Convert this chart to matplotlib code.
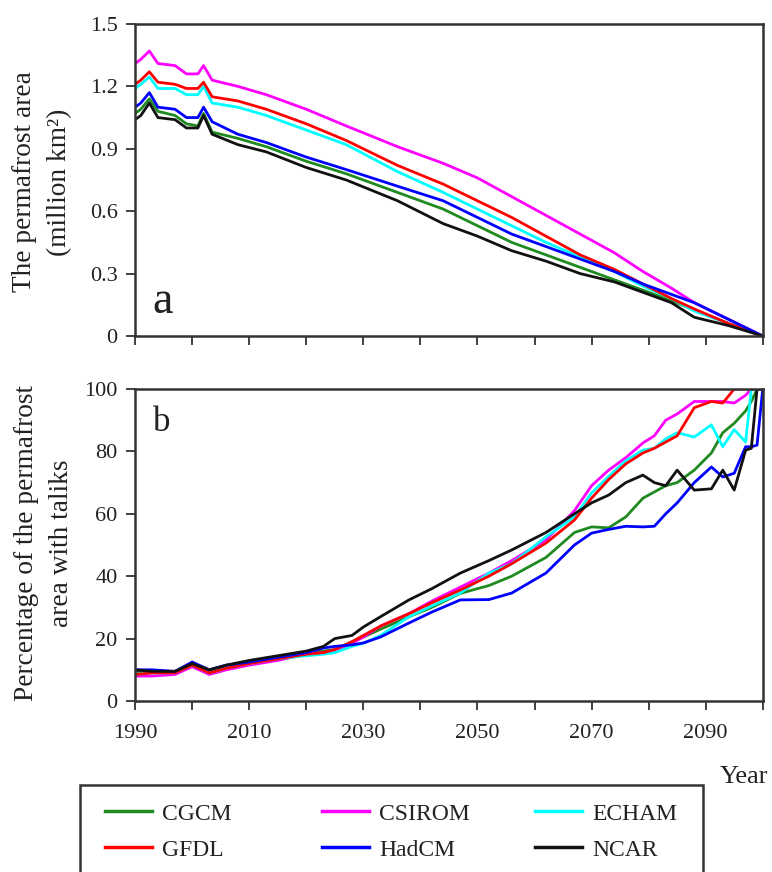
import matplotlib
matplotlib.use("Agg")
import matplotlib.pyplot as plt
from matplotlib.patches import Rectangle

plt.rcParams['font.family'] = ['Liberation Serif', 'DejaVu Serif']
plt.rcParams['text.color'] = '#222222'
plt.rcParams['xtick.labelcolor'] = '#222222'
plt.rcParams['ytick.labelcolor'] = '#222222'

# legend order as in the figure
models = ['CGCM', 'CSIROM', 'ECHAM', 'GFDL', 'HadCM', 'NCAR']
colors = ['#1f8a1f', '#ff00ff', '#00ffff', '#ff0000', '#0000ff', '#111111']

# (a) permafrost area, million km2
years_a = [1990, 1991, 1992.5, 1994, 1997, 1999, 2001, 2002, 2003.5, 2008, 2013, 2020,
           2027, 2036, 2044, 2050, 2056, 2062, 2068, 2074, 2079, 2084, 2088, 2094, 2100]
area_cgcm = [1.07, 1.09, 1.14, 1.08, 1.06, 1.02, 1.01, 1.07, 0.98, 0.95, 0.91, 0.84,
             0.78, 0.69, 0.61, 0.53, 0.45, 0.39, 0.33, 0.27, 0.22, 0.17, 0.125, 0.06, 0.0]
area_csirom = [1.31, 1.33, 1.37, 1.31, 1.30, 1.26, 1.26, 1.30, 1.23, 1.20, 1.16, 1.09,
               1.01, 0.91, 0.83, 0.76, 0.67, 0.58, 0.49, 0.40, 0.31, 0.23, 0.16, 0.08, 0.0]
area_echam = [1.19, 1.21, 1.245, 1.19, 1.19, 1.16, 1.16, 1.20, 1.12, 1.10, 1.06, 0.99,
              0.92, 0.79, 0.69, 0.61, 0.53, 0.45, 0.38, 0.31, 0.24, 0.18, 0.12, 0.06, 0.0]
area_gfdl = [1.21, 1.23, 1.27, 1.22, 1.21, 1.19, 1.19, 1.22, 1.15, 1.13, 1.09, 1.02,
             0.94, 0.82, 0.73, 0.65, 0.57, 0.48, 0.39, 0.32, 0.25, 0.18, 0.13, 0.06, 0.0]
area_hadcm = [1.10, 1.12, 1.17, 1.10, 1.09, 1.05, 1.05, 1.10, 1.03, 0.97, 0.93, 0.86,
              0.80, 0.72, 0.65, 0.57, 0.49, 0.43, 0.37, 0.31, 0.25, 0.20, 0.16, 0.08, 0.0]
area_ncar = [1.04, 1.06, 1.12, 1.05, 1.04, 1.00, 1.00, 1.06, 0.97, 0.92, 0.885, 0.81,
             0.75, 0.65, 0.54, 0.48, 0.41, 0.36, 0.30, 0.26, 0.21, 0.16, 0.09, 0.05, 0.0]

# (b) percentage of permafrost area with taliks
years_b = [1990, 1993, 1997, 2000, 2003, 2006, 2010, 2015, 2020, 2023, 2025, 2028, 2030,
           2033, 2038, 2042, 2047, 2052, 2056, 2062, 2067, 2070, 2073, 2076, 2079, 2081,
           2083, 2085, 2088, 2091, 2093, 2095, 2097, 2098, 2099, 2100]
pct_cgcm = [9.5, 9.5, 9.5, 12, 9.5, 11, 12.5, 14, 15.5, 16, 16.5, 19, 20.5,
            23, 27, 30, 34.5, 37, 40, 46, 54, 55.8, 55.5, 59, 65, 67,
            69, 70, 74, 79.5, 86, 89, 93, 96, 100, 100]
pct_csirom = [8, 8, 8.5, 11, 8.5, 10, 11.5, 13, 15, 15.5, 16, 18.5, 20.5,
              24, 28, 32, 36.5, 41, 45, 51.6, 61, 69, 74, 78, 82.7, 85,
              90, 92, 96, 96, 96, 95.5, 98, 100, 100, 100]
pct_echam = [8.5, 9, 9, 11.5, 9, 10.5, 12, 13.5, 14.5, 15, 15.5, 17.5, 18.5,
             21, 27, 30.5, 34.6, 41, 44, 52.6, 59, 66.7, 72, 77, 80.4, 81,
             84, 86, 84.6, 88.5, 81.5, 87, 83, 100, 100, 100]
pct_gfdl = [8.5, 9, 9, 11.5, 9, 10.5, 12, 13.5, 15, 15.5, 16.5, 19, 21,
            24, 28, 31.5, 35.6, 40, 44, 50.6, 58, 65, 71, 76, 79.5, 81,
            83, 85, 94, 96, 95.5, 100, 100, 100, 100, 100]
pct_hadcm = [10, 10, 9.5, 12.5, 10, 11.5, 12.5, 14, 15.5, 17, 17.5, 18, 18.6,
             20.5, 25, 28.5, 32.4, 32.5, 34.6, 41, 50, 53.8, 55, 56, 55.8, 56,
             60, 63.5, 70, 75, 71.8, 73, 81.5, 81.5, 82, 100]
pct_ncar = [10, 9.5, 9.5, 12, 10, 11.5, 13, 14.5, 16, 17.5, 20, 21, 23.7,
            27, 32.4, 36, 41, 45, 48.4, 54, 60, 63.5, 66, 70, 72.4, 70,
            69, 74, 67.6, 68, 74, 67.6, 80.4, 81, 100, 100]

area = [area_cgcm, area_csirom, area_echam, area_gfdl, area_hadcm, area_ncar]
pct = [pct_cgcm, pct_csirom, pct_echam, pct_gfdl, pct_hadcm, pct_ncar]

W, H = 772, 872
fig = plt.figure(figsize=(W / 100, H / 100), dpi=100)
ax1 = fig.add_axes([0.175, 0.6147, 0.813, 0.3578])
ax2 = fig.add_axes([0.175, 0.1961, 0.813, 0.3578])

handles = {}
for name, c, ya, yb in zip(models, colors, area, pct):
    ax1.plot(years_a, ya, color=c, lw=2)
    h, = ax2.plot(years_b, yb, color=c, lw=2, label=name)
    handles[name] = h

for ax in (ax1, ax2):
    ax.set_xlim(1990, 2100)
    ax.set_xticks(range(1990, 2100, 20))
    ax.set_xticks(range(2000, 2101, 20), minor=True)
    ax.tick_params(which='both', direction='out', length=6.5, width=1.3,
                   color='#333333', labelsize=16, pad=6)
    ax.tick_params(axis='x', pad=10)
    for s in ax.spines.values():
        s.set_linewidth(1.8)
        s.set_color('#333333')

ax1.set_ylim(0, 1.5)
ax1.set_yticks([0, 0.3, 0.6, 0.9, 1.2, 1.5])
ax1.set_yticklabels(['0', '0.3', '0.6', '0.9', '1.2', '1.5'])
ax1.tick_params(axis='x', labelbottom=False)
ax2.set_ylim(0, 100)
ax2.set_yticks(range(0, 101, 20))

ax1.text(0.028, 0.075, 'a', transform=ax1.transAxes, fontsize=33, va='baseline')
ax2.text(0.028, 0.865, 'b', transform=ax2.transAxes, fontsize=25, va='baseline')

fig.text(42 / W, 1 - 182 / H, 'The permafrost area\n(million km²)', rotation=90,
         ha='center', va='center', fontsize=19.7, linespacing=1.55)
fig.text(44 / W, 1 - 543 / H, 'Percentage of the permafrost\narea with taliks', rotation=90,
         ha='center', va='center', fontsize=19.7, linespacing=1.55)
fig.text(768 / W, 1 - 777 / H, 'Year', ha='right', va='center', fontsize=19)

# legend frame (runs off the bottom edge like the original)
fig.patches.append(Rectangle((80 / W, -0.02), 623 / W, 0.02 + 1 - 785 / H,
                             transform=fig.transFigure, fill=False,
                             edgecolor='#333333', lw=1.8))

columns = [(['CGCM', 'GFDL'], 105), (['CSIROM', 'HadCM'], 322), (['ECHAM', 'NCAR'], 535)]
for names, x0 in columns:
    leg = fig.legend([handles[n] for n in names], names, loc='upper left',
                     bbox_to_anchor=(x0 / W, 1 - 803 / H), fontsize=17,
                     frameon=False, handlelength=2.0, handletextpad=0.42,
                     labelspacing=0.62, borderpad=0, borderaxespad=0)
    for line in leg.get_lines():
        line.set_linewidth(2.5)

fig.savefig('out.png', dpi=100)
